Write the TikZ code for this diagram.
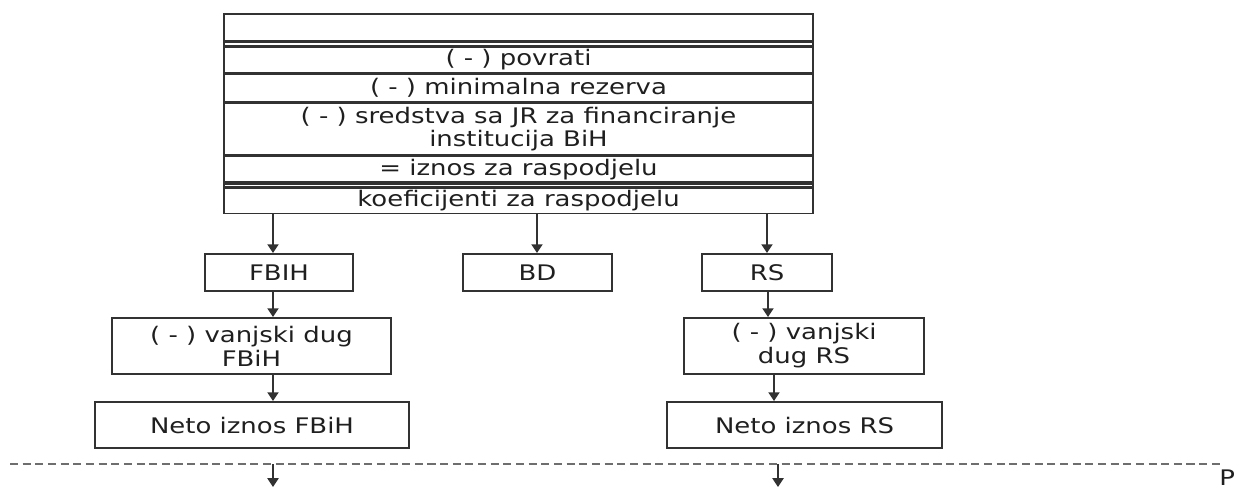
\documentclass[tikz,border=0pt]{standalone}
\usepackage{fontspec}
\setmainfont[FakeStretch=1.21]{DejaVu Sans}
\usetikzlibrary{arrows.meta, positioning}
\definecolor{linegray}{RGB}{50, 50, 50}
\definecolor{dashgray}{RGB}{110, 110, 110}

\begin{document}
\begin{tikzpicture}[x=0.02cm, y=-0.02cm,
    font=\fontsize{12.2}{13.6}\selectfont, text=black!88,
    tabrow/.style={rectangle, draw=linegray, line width=0.9pt, inner sep=0pt,
                   minimum width=11.78cm, align=center},
    box/.style={rectangle, draw=linegray, line width=1.1pt, inner sep=0pt, align=center},
    arr/.style={-{Triangle[width=6.3pt, length=5pt]}, line width=0.95pt, draw=linegray}]
    \useasboundingbox (0,0) rectangle (1238,488);

    % Table
    \node[tabrow, minimum height=0.54cm, anchor=north] (r0) at (518.5, 13) {};
    \node[tabrow, minimum height=0.07cm, below=0pt of r0] (g1) {};
    \node[tabrow, minimum height=0.50cm, below=0pt of g1] (r1) {( - ) povrati};
    \node[tabrow, minimum height=0.56cm, below=0pt of r1] (r2) {( - ) minimalna rezerva};
    \node[tabrow, minimum height=1.02cm, below=0pt of r2] (r3) {( - ) sredstva sa JR za financiranje\\institucija BiH};
    \node[tabrow, minimum height=0.52cm, below=0pt of r3] (r4) {= iznos za raspodjelu};
    \node[tabrow, minimum height=0.06cm, below=0pt of r4] (g2) {};
    \node[tabrow, minimum height=0.50cm, below=0pt of g2] (r5) {koeficijenti za raspodjelu};

    % Entities
    \node[box, minimum width=2.96cm, minimum height=0.74cm] (fbih) at (279, 272.5) {FBIH};
    \node[box, minimum width=2.98cm, minimum height=0.74cm] (bd) at (537.5, 272.5) {BD};
    \node[box, minimum width=2.60cm, minimum height=0.74cm] (rs) at (767, 272.5) {RS};

    % Debt and net
    \node[box, minimum width=5.58cm, minimum height=1.12cm] (dugf) at (251.5, 346) {( - ) vanjski dug\\FBiH};
    \node[box, minimum width=6.28cm, minimum height=0.92cm] (netof) at (252, 425) {Neto iznos FBiH};
    \node[box, minimum width=4.80cm, minimum height=1.12cm] (dugrs) at (804, 346) {( - ) vanjski\\dug RS};
    \node[box, minimum width=5.50cm, minimum height=0.92cm] (netors) at (804.5, 425) {Neto iznos RS};

    % Columns for arrows
    \coordinate (cL) at (273, 0);
    \coordinate (cM) at (537, 0);
    \coordinate (cR1) at (767, 0);
    \coordinate (cR2) at (768, 0);
    \coordinate (cR3) at (774, 0);
    \coordinate (cR4) at (778, 0);

    \draw[arr] (r5.south -| cL) -- (fbih.north -| cL);
    \draw[arr] (r5.south -| cM) -- (bd.north -| cM);
    \draw[arr] (r5.south -| cR1) -- (rs.north -| cR1);
    \draw[arr] (fbih.south -| cL) -- (dugf.north -| cL);
    \draw[arr] (dugf.south -| cL) -- (netof.north -| cL);
    \draw[arr] (rs.south -| cR2) -- (dugrs.north -| cR2);
    \draw[arr] (dugrs.south -| cR3) -- (netors.north -| cR3);

    % Dashed line
    \coordinate (dashA) at (10, 464);
    \coordinate (dashB) at (1222, 464);
    \draw[dashgray, line width=0.9pt, dash pattern=on 4.6pt off 2.6pt] (dashA) -- (dashB);
    \coordinate (endL) at (273, 487);
    \coordinate (endR) at (778, 487);
    \draw[arr] (dashA -| cL) -- (endL);
    \draw[arr] (dashA -| cR4) -- (endR);

    \node[anchor=base west, inner sep=0pt] (pmark) at (1219, 485) {P};
\end{tikzpicture}
\end{document}
